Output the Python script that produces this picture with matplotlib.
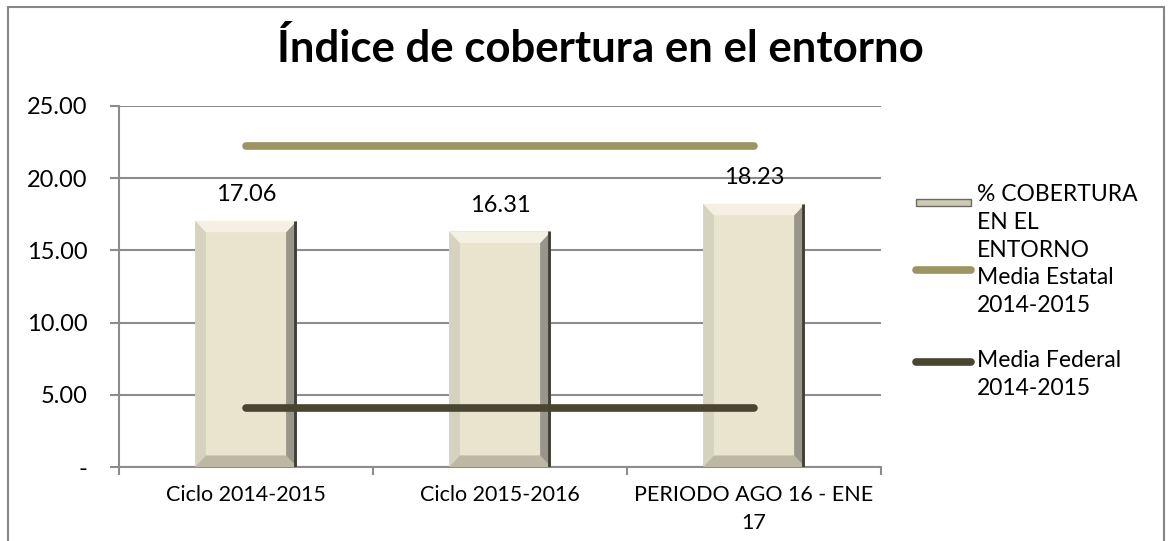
import matplotlib
matplotlib.use("Agg")
from matplotlib import pyplot as plt
from matplotlib.patches import Polygon, Rectangle
from matplotlib.lines import Line2D
import numpy as np

categories = ["Ciclo 2014-2015", "Ciclo 2015-2016", "PERIODO AGO 16 - ENE\n17"]
cobertura = [17.06, 16.31, 18.23]
media_estatal = [22.2, 22.2, 22.2]
media_federal = [4.1, 4.1, 4.1]
yticks = [0, 5, 10, 15, 20, 25]
yticklabels = ["-", "5.00", "10.00", "15.00", "20.00", "25.00"]

FONT = "Lato"
FACE = "#e9e4ce"
ESTATAL = "#9c9461"
FEDERAL = "#4a4530"
GRID = "#8c8c8c"

W, H = 1172, 541
fig = plt.figure(figsize=(W / 100, H / 100), dpi=100)
plt.rcParams["font.family"] = [FONT, "DejaVu Sans"]


def px(x, y):
    # pixel (top-left origin) -> figure fraction
    return x / W, 1 - y / H


# chart border
fig.patches.append(Rectangle(px(8, 560), (1164 - 8) / W, (560 - 7) / H,
                             transform=fig.transFigure, fill=False,
                             edgecolor="#868686", linewidth=1.5))

ax = fig.add_axes([119 / W, 1 - 467 / H, (881 - 119) / W, (467 - 106) / H])
x = np.arange(len(categories))

bars = ax.bar(x, cobertura, width=0.4, color=FACE, zorder=2)

# bevel on each bar
dx, dy = 0.042, 0.8
for b in bars:
    x0, y0, w, h = b.get_x(), b.get_y(), b.get_width(), b.get_height()
    x1, y1 = x0 + w, y0 + h
    top = [(x0, y1), (x1, y1), (x1 - dx, y1 - dy), (x0 + dx, y1 - dy)]
    left = [(x0, y0), (x0, y1), (x0 + dx, y1 - dy), (x0 + dx, y0 + dy)]
    right = [(x1, y0), (x1, y1), (x1 - dx, y1 - dy), (x1 - dx, y0 + dy)]
    bottom = [(x0, y0), (x1, y0), (x1 - dx, y0 + dy), (x0 + dx, y0 + dy)]
    ax.add_patch(Polygon(left, closed=True, color="#d6d2bd", lw=0, zorder=3))
    ax.add_patch(Polygon(bottom, closed=True, color="#bcb8a4", lw=0, zorder=3))
    ax.add_patch(Polygon(right, closed=True, color="#98958a", lw=0, zorder=3))
    ax.add_patch(Polygon(top, closed=True, color="#f4f1e3", lw=0, zorder=3))
    ax.plot([x1 - 0.006, x1 - 0.006], [y0, y1], color="#3e3d36", lw=2, zorder=4,
            solid_capstyle="butt")

for xi, v in zip(x, cobertura):
    ax.annotate(f"{v:.2f}", (xi, v), xytext=(0, 19), textcoords="offset points",
                ha="center", va="center", fontsize=17, family=[FONT, "DejaVu Sans"])

ax.plot(x, media_estatal, color=ESTATAL, lw=5.5, solid_capstyle="round", zorder=5)
ax.plot(x, media_federal, color=FEDERAL, lw=5.5, solid_capstyle="round", zorder=5)

ax.set_xlim(-0.5, 2.5)
ax.set_ylim(0, 25)
ax.set_yticks(yticks)
ax.set_yticklabels(yticklabels)
ax.set_xticks(x)
ax.set_xticklabels(categories)
ax.set_xticks([-0.5, 0.5, 1.5, 2.5], minor=True)
ax.tick_params(axis="x", which="major", length=0, pad=13, labelsize=15.5)
ax.tick_params(axis="x", which="minor", length=5.5, width=1.5, color=GRID)
ax.tick_params(axis="y", length=6.5, width=1.5, color=GRID, pad=16, labelsize=17)
for lab in ax.get_xticklabels():
    lab.set_linespacing(1.5)
ax.grid(axis="y", color=GRID, lw=1.5, zorder=0)
ax.set_axisbelow(True)
for s in ["top", "right"]:
    ax.spines[s].set_visible(False)
for s in ["left", "bottom"]:
    ax.spines[s].set_color(GRID)
    ax.spines[s].set_linewidth(1.5)

fig.text(*px(600, 48), "Índice de cobertura en el entorno", ha="center", va="center",
         fontsize=31.5, fontweight="bold")

# legend drawn by hand
lx0, lx1, tx = 916, 971, 977
fig.patches.append(Rectangle(px(lx0, 206), (lx1 - lx0) / W, 7 / H, transform=fig.transFigure,
                             facecolor="#cdc9b4", edgecolor="#6d6b60", lw=1))
for yy, col in [(270, ESTATAL), (362, FEDERAL)]:
    fig.lines.append(Line2D([lx0 / W, lx1 / W], [1 - yy / H] * 2, transform=fig.transFigure,
                            color=col, lw=5.5, solid_capstyle="round"))
legend_texts = [(197, "% COBERTURA\nEN EL\nENTORNO"),
                (280, "Media Estatal\n2014-2015"),
                (363, "Media Federal\n2014-2015")]
for yy, t in legend_texts:
    fig.text(*px(tx, yy - 13), t, ha="left", va="top", fontsize=16.5, linespacing=1.4)

fig.savefig("out.png", dpi=100)
